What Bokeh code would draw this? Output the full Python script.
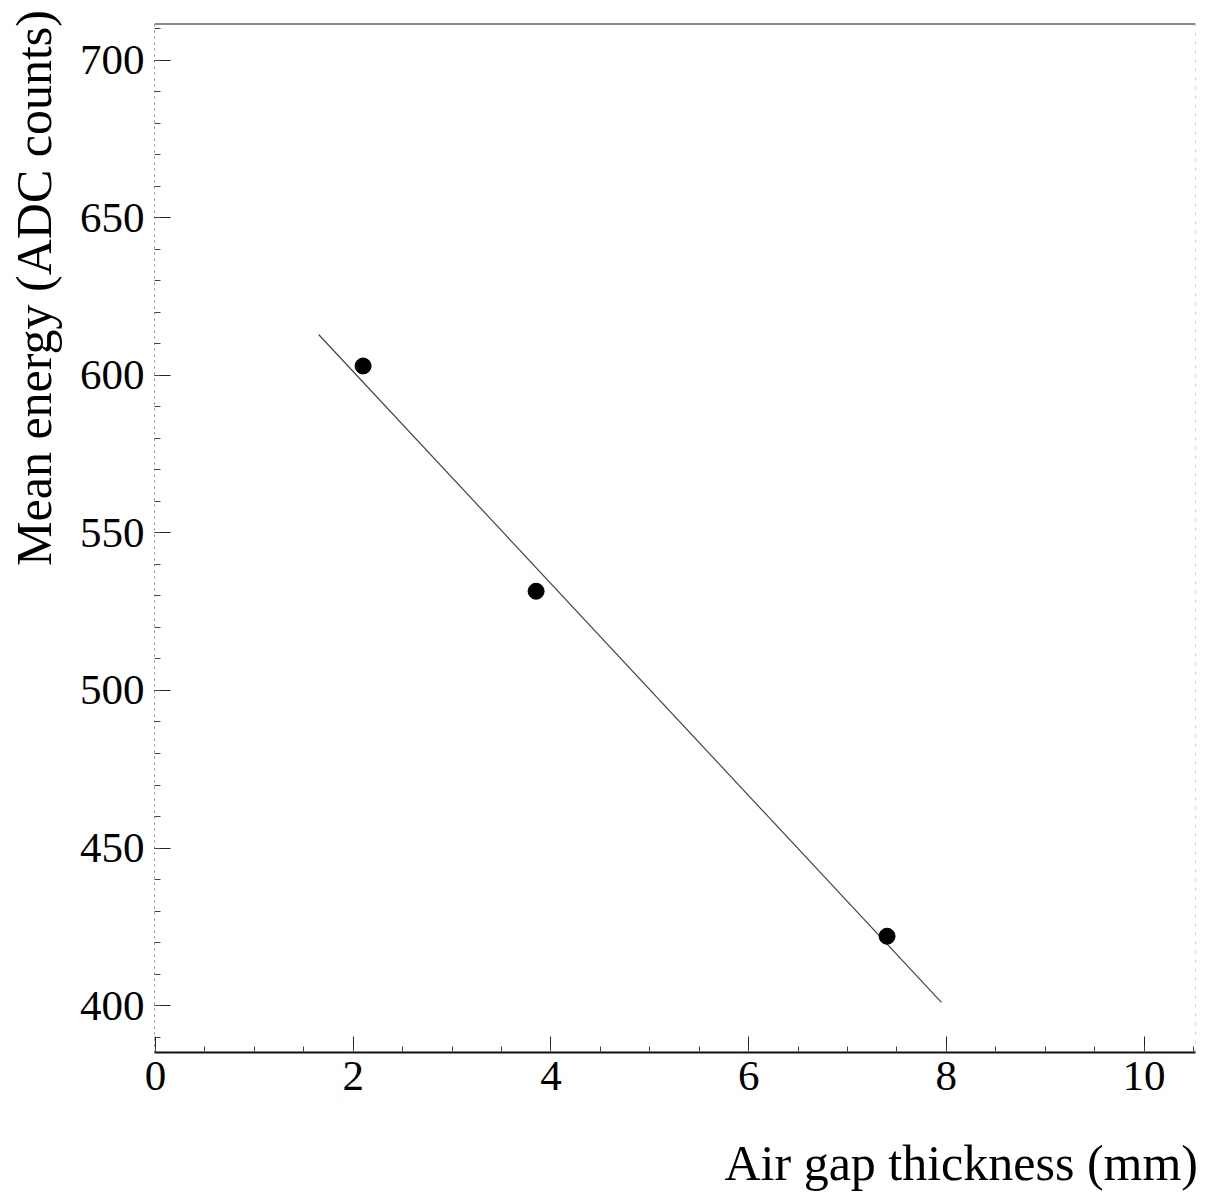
from bokeh.plotting import figure
from bokeh.models import Span, SingleIntervalTicker
from bokeh.embed import file_html
from bokeh.resources import INLINE

# Data
gap_mm = [2.1, 3.85, 7.4]
mean_energy = [603, 531.5, 422]
fit_x = [1.65, 7.95]
fit_y = [613, 401]

x_ticks_major = 2
y_ticks_major = 50

X_START, X_END = -0.01, 10.52
Y_START, Y_END = 385.1, 711.7

FONT = "Liberation Serif"
NBSP = "\u00a0"

# axis titles sit toward the far end of each axis (leading no-break spaces shift them)
x_title = NBSP * 45 + "\u2009" + "Air gap thickness (mm)"
y_title = NBSP * 40 + "Mean energy (ADC counts)"

p = figure(width=1197, height=1193, x_range=(X_START, X_END), y_range=(Y_START, Y_END),
           output_backend="svg", toolbar_location=None,
           min_border_left=154, min_border_right=2, min_border_top=23, min_border_bottom=141)
p.grid.visible = False
p.outline_line_color = None
p.background_fill_color = "white"
p.border_fill_color = "white"

p.line(fit_x, fit_y, line_color="#444444", line_width=1.2)
p.scatter(gap_mm, mean_energy, size=16, marker="circle", fill_color="black", line_color="black")

p.xaxis.ticker = SingleIntervalTicker(interval=x_ticks_major, num_minor_ticks=4)
p.yaxis.ticker = SingleIntervalTicker(interval=y_ticks_major, num_minor_ticks=5)

p.xaxis.axis_label = x_title
p.yaxis.axis_label = y_title

for ax in (p.xaxis[0], p.yaxis[0]):
    ax.major_label_text_font = FONT
    ax.major_label_text_font_size = "43px"
    ax.major_label_text_color = "black"
    ax.major_tick_in = 16
    ax.major_tick_out = 0
    ax.minor_tick_in = 6
    ax.minor_tick_out = 0
    ax.major_tick_line_color = "#222222"
    ax.minor_tick_line_color = "#444444"
    ax.axis_label_text_font = FONT
    ax.axis_label_text_font_size = "50px"
    ax.axis_label_text_font_style = "normal"
    ax.axis_label_text_color = "black"

p.xaxis.major_label_standoff = 9
p.xaxis.axis_label_standoff = 42
p.yaxis.major_label_standoff = 10
p.yaxis.axis_label_standoff = 15

p.xaxis.axis_line_color = "#111111"
p.xaxis.axis_line_width = 2
p.yaxis.axis_line_color = "#888888"
p.yaxis.axis_line_dash = "2 4"

p.add_layout(Span(location=Y_END, dimension="width", line_color="#111111", line_width=2))
p.add_layout(Span(location=X_END, dimension="height", line_color="#999999", line_width=1, line_dash="3 6"))

open("out.html", "w").write(file_html(p, INLINE))
